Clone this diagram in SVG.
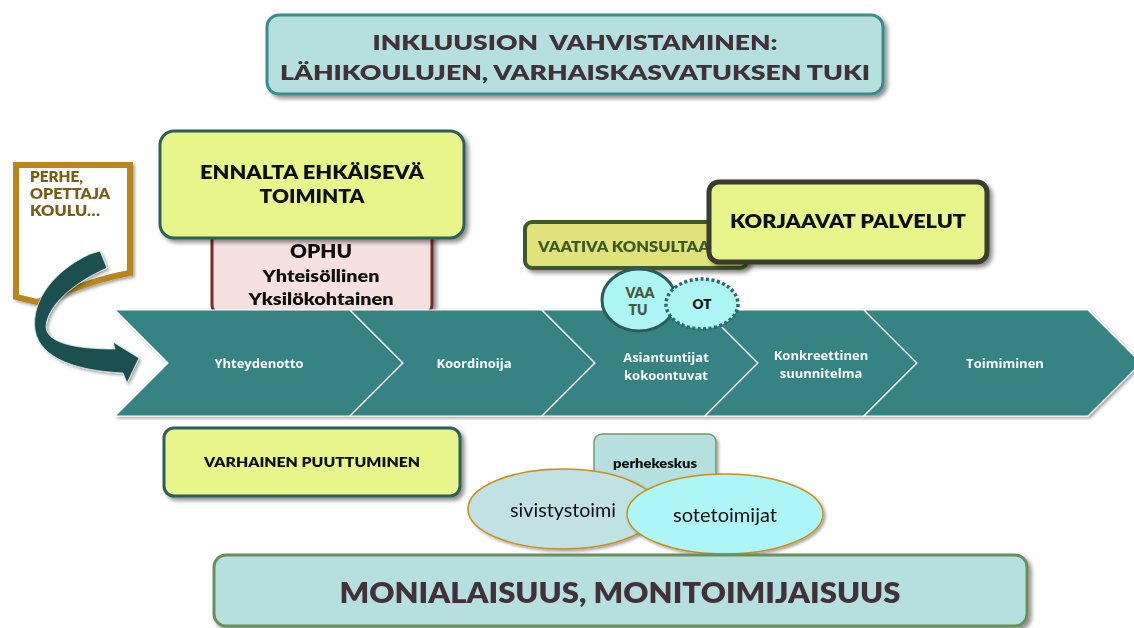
<svg xmlns="http://www.w3.org/2000/svg" width="1134" height="628" viewBox="0 0 1134 628">
<defs>
<filter id="sh" x="-10%" y="-10%" width="130%" height="140%">
<feDropShadow dx="3" dy="3" stdDeviation="2" flood-color="#000" flood-opacity="0.45"/>
</filter>
<filter id="shs" x="-10%" y="-10%" width="130%" height="140%">
<feDropShadow dx="2" dy="2" stdDeviation="1.5" flood-color="#000" flood-opacity="0.35"/>
</filter>
<style>
.t{font-family:Lato,"Liberation Sans",sans-serif;font-weight:800;text-anchor:middle;white-space:pre}
.c{font-family:"Open Sans","Liberation Sans",sans-serif;font-weight:bold;font-size:13px;fill:#ffffff;text-anchor:middle}
.chev{fill:#358383;stroke:#ffffff;stroke-width:1.2}
.yel{fill:#e8f58a;stroke:#2d5e5a;stroke-width:3}
.p{font-family:Lato,"Liberation Sans",sans-serif;font-weight:800;font-size:14px;fill:#7b5c14}
.r{font-family:Lato,"Liberation Sans",sans-serif;font-size:19px;fill:#111;text-anchor:middle}
</style>
</defs>
<rect width="1134" height="628" fill="#ffffff"/>

<g id="title" filter="url(#sh)">
<rect x="267" y="15" width="616" height="79" rx="12" fill="#b6e0e0" stroke="#3b8b8b" stroke-width="3"/>
<text class="t" x="575" y="50" font-size="21" fill="#3f3138" textLength="405" lengthAdjust="spacingAndGlyphs">INKLUUSION  VAHVISTAMINEN:</text>
<text class="t" x="575" y="80" font-size="21" fill="#3f3138" textLength="590" lengthAdjust="spacingAndGlyphs">LÄHIKOULUJEN, VARHAISKASVATUKSEN TUKI</text>
</g>

<g id="perhe" filter="url(#shs)">
<path d="M16,165 L130,165 L130,273 C100,278 70,290 37,302 L16,297 Z" fill="#ffffff" stroke="#b8861b" stroke-width="6" stroke-linejoin="miter"/>
<text class="p" x="30" y="182" textLength="53" lengthAdjust="spacingAndGlyphs">PERHE,</text>
<text class="p" x="30" y="199" textLength="80" lengthAdjust="spacingAndGlyphs">OPETTAJA</text>
<text class="p" x="30" y="216" textLength="70" lengthAdjust="spacingAndGlyphs">KOULU…</text>
</g>

<g id="ophu" filter="url(#sh)">
<rect x="212" y="228" width="220" height="86" rx="9" fill="#f7e0e0" stroke="#7a2a2a" stroke-width="3"/>
<text class="t" x="321" y="258" font-size="18" fill="#111" textLength="62" lengthAdjust="spacingAndGlyphs">OPHU</text>
<text class="t" x="321" y="282" font-size="17" fill="#111" textLength="117" lengthAdjust="spacingAndGlyphs">Yhteisöllinen</text>
<text class="t" x="321" y="305" font-size="17" fill="#111" textLength="145" lengthAdjust="spacingAndGlyphs">Yksilökohtainen</text>
</g>

<g id="ennalta" filter="url(#sh)">
<rect x="160" y="131" width="304" height="107" rx="14" class="yel"/>
<text class="t" x="312" y="179" font-size="19" fill="#111" textLength="224" lengthAdjust="spacingAndGlyphs">ENNALTA EHKÄISEVÄ</text>
<text class="t" x="312" y="203" font-size="19" fill="#111" textLength="105" lengthAdjust="spacingAndGlyphs">TOIMINTA</text>
</g>

<g id="chevrons" filter="url(#shs)">
<g id="yhteydenotto">
<polygon class="chev" points="115,310 350,310 403,363 350,416 115,416 168,363"/>
<text class="c" x="259" y="368">Yhteydenotto</text>
</g>
<g id="koordinoija">
<polygon class="chev" points="350,310 542,310 595,363 542,416 350,416 403,363"/>
<text class="c" x="474" y="368">Koordinoija</text>
</g>
<g id="asiantuntijat">
<polygon class="chev" points="542,310 705,310 758,363 705,416 542,416 595,363"/>
<text class="c" x="666" y="362">Asiantuntijat</text>
<text class="c" x="666" y="380">kokoontuvat</text>
</g>
<g id="konkreettinen">
<polygon class="chev" points="705,310 864,310 917,363 864,416 705,416 758,363"/>
<text class="c" x="821" y="360">Konkreettinen</text>
<text class="c" x="821" y="378">suunnitelma</text>
</g>
<g id="toimiminen">
<polygon class="chev" points="864,310 1088,310 1141,363 1088,416 864,416 917,363"/>
<text class="c" x="1005" y="368">Toimiminen</text>
</g>
</g>

<g id="vaativa" filter="url(#sh)">
<rect x="525" y="222" width="222" height="46" rx="7" fill="#e2e27a" stroke="#3e5a28" stroke-width="4"/>
<text x="538" y="252" font-family="Lato,'Liberation Sans',sans-serif" font-weight="800" font-size="15" fill="#3e5a28" textLength="172" lengthAdjust="spacingAndGlyphs">VAATIVA KONSULTAA</text>
</g>

<g id="korjaavat" filter="url(#sh)">
<rect x="709" y="182" width="278" height="80" rx="10" fill="#e8f58a" stroke="#3a3a2e" stroke-width="5"/>
<text class="t" x="848" y="228" font-size="19" fill="#111" textLength="236" lengthAdjust="spacingAndGlyphs">KORJAAVAT PALVELUT</text>
</g>

<g id="vaatu">
<ellipse cx="639" cy="300" rx="37" ry="31" fill="#aef5f5" stroke="#2a5a5a" stroke-width="3"/>
<text class="t" x="640" y="298" font-size="14" fill="#4a5a3c">VAA</text>
<text class="t" x="638" y="315" font-size="14" fill="#4a5a3c">TU</text>
</g>

<g id="ot">
<ellipse cx="702" cy="304" rx="36" ry="25" fill="#aef5f5" stroke="#2a6a6a" stroke-width="3.5" stroke-dasharray="3 2.5"/>
<text class="t" x="702" y="309" font-size="13.5" fill="#111">OT</text>
</g>

<g id="varhainen" filter="url(#sh)">
<rect x="164" y="428" width="296" height="68" rx="10" class="yel"/>
<text class="t" x="312" y="467" font-size="13.5" fill="#111" textLength="216" lengthAdjust="spacingAndGlyphs">VARHAINEN PUUTTUMINEN</text>
</g>

<g id="perhekeskus" filter="url(#shs)">
<rect x="594" y="434" width="122" height="70" rx="8" fill="#b6dfe0" stroke="#7a9a6a" stroke-width="1.5"/>
<text class="t" x="655" y="468" font-size="12.5" fill="#111" textLength="84" lengthAdjust="spacingAndGlyphs">perhekeskus</text>
</g>

<g id="sivistystoimi" filter="url(#shs)">
<ellipse cx="563" cy="509" rx="95" ry="40" fill="#c0e2e4" stroke="#c8901a" stroke-width="1.5"/>
<text class="r" x="563" y="517" textLength="106" lengthAdjust="spacingAndGlyphs">sivistystoimi</text>
</g>

<g id="sotetoimijat" filter="url(#shs)">
<ellipse cx="725" cy="514" rx="98" ry="40" fill="#aef5f7" stroke="#c8901a" stroke-width="1.5"/>
<text class="r" x="725" y="522" textLength="104" lengthAdjust="spacingAndGlyphs">sotetoimijat</text>
</g>

<g id="monialaisuus" filter="url(#sh)">
<rect x="214" y="555" width="813" height="71" rx="12" fill="#b6dfe0" stroke="#6b8f5c" stroke-width="3"/>
<text class="t" x="620" y="603" font-size="28" fill="#3f3138" textLength="561" lengthAdjust="spacingAndGlyphs">MONIALAISUUS, MONITOIMIJAISUUS</text>
</g>

<g id="connectors">
<path d="M90,254 L100,251 L107,268 C75,282 47,305 46,327 C47,343 75,349 115,349 L113,342 L139,358 L127,383 L123,373 C80,371 40,360 35,330 C31,300 55,270 90,254 Z" fill="#1f4f4f" stroke="#d8eeee" stroke-width="0.8" filter="url(#shs)"/>
</g>
</svg>
